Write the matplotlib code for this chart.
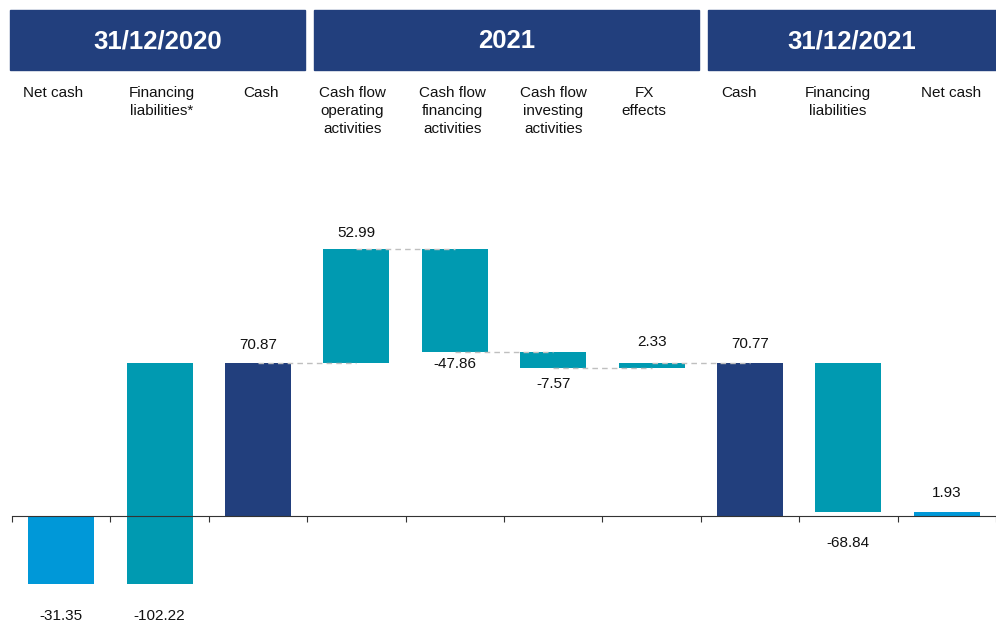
import matplotlib.pyplot as plt
from matplotlib.patches import Rectangle

plt.rcParams['font.family'] = ['Liberation Sans', 'DejaVu Sans']

# --- DADOS ---
categorias = ['Net cash', 'Financing\nliabilities*', 'Cash',
              'Cash flow\noperating\nactivities', 'Cash flow\nfinancing\nactivities',
              'Cash flow\ninvesting\nactivities', 'FX\neffects',
              'Cash', 'Financing\nliabilities', 'Net cash']
valores = [-31.35, -102.22, 70.87, 52.99, -47.86, -7.57, 2.33, 70.77, -68.84, 1.93]
# 0 = total (parte do zero), +1/-1 = variação somada/subtraída ao acumulado
direcao = [0, -1, 0, 1, 1, 1, 1, 0, 1, 0]
grupos = ['31/12/2020', '2021', '31/12/2021']
grupo_limites = [(0, 2), (3, 6), (7, 9)]

# --- ESTILO ---
AZUL_CLARO = '#0098d8'
TEAL = '#009ab1'
NAVY = '#223f7d'
cores = [AZUL_CLARO, TEAL, NAVY, TEAL, TEAL, TEAL, TEAL, NAVY, TEAL, AZUL_CLARO]
# deslocamento vertical dos rótulos de valor (pontos)
offset_rotulo = [-23, -23, 13, 11, -9, -11.5, 15, 13.5, -22.5, 13.5]
# deslocamento horizontal dos nomes das categorias (pixels)
offset_nome = [-8, 2.5, 3, -4, -2, 0, -7.5, -11, -11, 4]

# --- CÁLCULO DO WATERFALL ---
inicio, fim = [], []
acum = 0
for v, d in zip(valores, direcao):
    if d == 0:
        inicio.append(0)
        fim.append(v)
        acum = v
    else:
        novo = acum + d * v
        inicio.append(acum)
        fim.append(novo)
        acum = novo

fig = plt.figure(figsize=(9.96, 6.22), dpi=100)
ax = fig.add_axes([12 / 996, 0, 984 / 996, 1])
ax.set_xlim(-0.5, 9.5)
ax.set_ylim(-49.1, 239.0)

x = list(range(len(valores)))
for i in x:
    base = min(inicio[i], fim[i])
    altura = abs(fim[i] - inicio[i])
    ax.bar(i, altura, bottom=base, width=0.67, color=cores[i], zorder=2)

# linhas tracejadas de ligação (apenas no bloco 2021)
for i in range(2, 7):
    ax.plot([i, i + 1], [fim[i], fim[i]], color='#bfbfbf', linestyle=(0, (4, 3)),
            linewidth=1, zorder=3)

# rótulos de valor
for i in x:
    topo = max(inicio[i], fim[i])
    fundo = min(inicio[i], fim[i])
    y = topo if offset_rotulo[i] > 0 else fundo
    ax.annotate(f'{valores[i]:.2f}', (i, y), xytext=(0, offset_rotulo[i]),
                textcoords='offset points', ha='center', va='center',
                fontsize=11, color='#111111')

# cabeçalhos
for nome, (a, b) in zip(grupos, grupo_limites):
    esq = a - 0.5 + (0.07 if a > 0 else -0.02)
    dir_ = b + 0.48 if b < 9 else 9.6
    ax.add_patch(Rectangle((esq, 206.6), dir_ - esq, 27.8, color=NAVY,
                           clip_on=False, zorder=4))
    ax.text((esq + min(dir_, 9.5)) / 2, 219.8, nome, ha='center', va='center',
            color='white', fontsize=18.5, fontweight='bold', zorder=5)

# nomes das categorias
for i, c in enumerate(categorias):
    ax.text(i + offset_nome[i] / 98.4, 199.0, c, ha='center', va='top', fontsize=11,
            linespacing=1.36, color='#111111')

# eixo
for s in ['top', 'right', 'left']:
    ax.spines[s].set_visible(False)
ax.spines['bottom'].set_position(('data', 0))
ax.spines['bottom'].set_color('#333333')
ax.set_yticks([])
ax.set_xticks([i - 0.5 for i in range(11)])
ax.set_xticklabels([])
ax.tick_params(axis='x', direction='out', length=4, color='#333333')

plt.savefig('out.png', dpi=100)
